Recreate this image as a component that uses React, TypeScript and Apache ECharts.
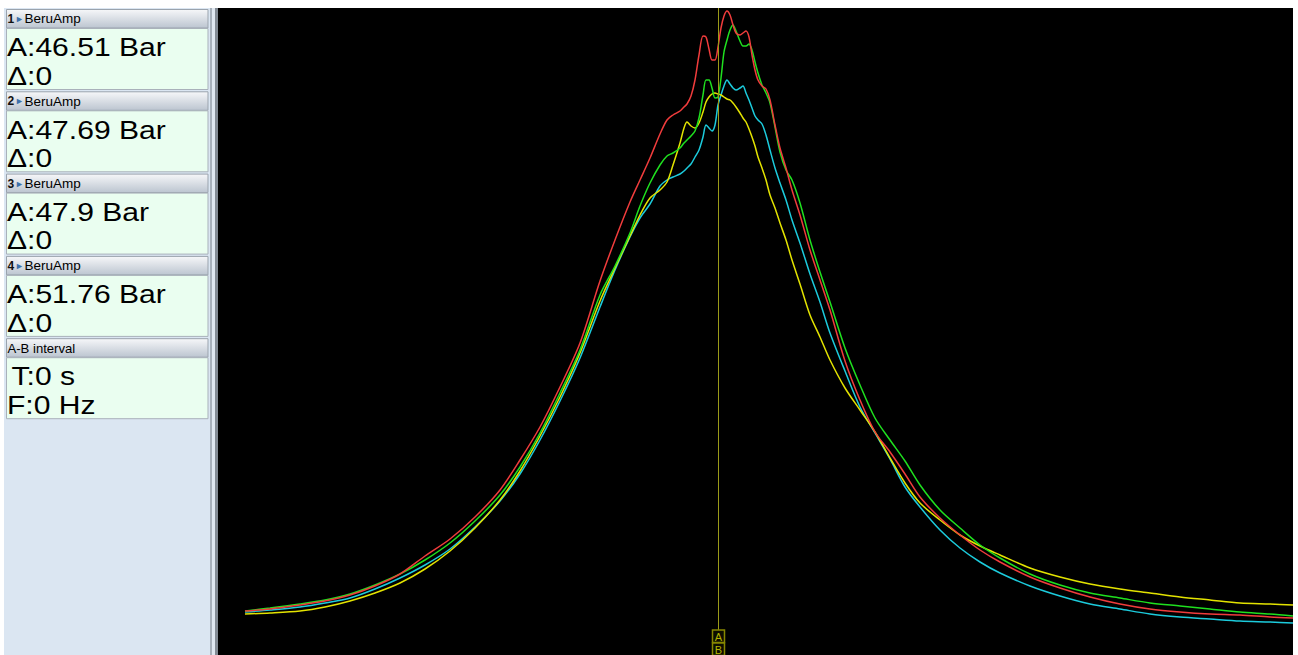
import React, { useEffect, useRef } from "react";
import * as echarts from "echarts";

// frequency bins (shared x for all channels)
const freq = [
  27, 52, 82, 107, 132, 157, 182, 207, 232, 257,
  282, 302, 322, 342, 362, 382, 397, 412, 422, 432,
  442, 449, 455, 462, 466, 469, 473, 477, 481, 485,
  488, 491, 494, 497, 500, 503, 506, 509, 512, 515,
  518, 522, 525, 528, 531, 534, 537, 540, 544, 548,
  552, 557, 562, 568, 574, 582, 592, 602, 612, 627,
  642, 657, 672, 687, 702, 722, 742, 762, 782, 812,
  842, 872, 902, 932, 962, 992, 1022, 1052, 1075,
];

const redAmp = [
  44, 46, 50, 54, 60, 69, 81, 99, 116, 138,
  165, 195, 228, 268, 312, 374, 415, 453, 475, 497,
  521, 535, 540, 544, 548, 551, 559, 575, 600, 619,
  618, 606, 595, 595, 608, 627, 639, 644, 640, 630,
  622, 620, 622, 624, 618, 600, 585, 575, 569, 566,
  555, 530, 507, 487, 465, 440, 405, 375, 345, 294,
  255, 223, 203, 181, 158, 137, 120, 105, 93, 78,
  67, 58, 51, 46, 43, 41, 40, 38, 37,
];

const greenAmp = [
  44, 47, 51, 55, 61, 70, 81, 95, 112, 134,
  160, 188, 222, 262, 305, 360, 389, 422, 449, 472,
  490, 499, 502, 507, 512, 515, 519, 524, 537, 560,
  575, 575, 567, 557, 558, 577, 603, 615, 625, 630,
  624, 614, 609, 609, 611, 605, 593, 582, 570, 562,
  552, 528, 503, 485, 475, 452, 415, 383, 353, 307,
  270, 237, 215, 194, 170, 145, 127, 110, 97, 81,
  70, 62, 57, 52, 49, 46, 43, 41, 39,
];

const cyanAmp = [
  43, 45, 48, 52, 57, 66, 77, 90, 106, 128,
  154, 181, 215, 254, 297, 348, 385, 418, 437, 451,
  469, 475, 478, 481, 484, 487, 491, 498, 505, 518,
  530, 527, 524, 530, 550, 560, 569, 575, 571, 567,
  565, 567, 569, 562, 555, 547, 539, 535, 531, 520,
  505, 487, 472, 455, 435, 412, 381, 353, 322, 284,
  248, 222, 196, 168, 148, 125, 107, 93, 82, 69,
  59, 51, 46, 41, 38, 36, 34, 33, 32,
];

const yellowAmp = [
  41, 42, 44, 48, 54, 62, 72, 86, 104, 127,
  155, 184, 219, 258, 302, 354, 387, 419, 440, 457,
  465, 473, 490, 512, 527, 533, 529, 527, 532, 543,
  553, 558, 561, 562, 561, 560, 558, 556, 555, 552,
  548, 542, 537, 533, 526, 518, 509, 498, 487, 475,
  460, 447, 432, 415, 395, 371, 340, 318, 295, 267,
  245, 223, 197, 172, 152, 135, 120, 109, 100, 87,
  78, 71, 66, 62, 58, 55, 52, 51, 50,
];

const cursorFreq = 500;

const channelNumbers = ["1", "2", "3", "4"];
const channelName = "BeruAmp";
const readouts = ["A:46.51 Bar", "A:47.69 Bar", "A:47.9 Bar", "A:51.76 Bar"];
const deltas = ["Δ:0", "Δ:0", "Δ:0", "Δ:0"];
const intervalTitle = "A-B interval";
const intervalLines = ["T:0 s", "F:0 Hz"];

const FONT = "Arial, 'Liberation Sans', sans-serif";
const BIG_SCALE = 1.135;

function buildPanel(): any[] {
  const els: any[] = [];
  els.push({ type: "rect", shape: { x: 4, y: 8, width: 206, height: 647 }, style: { fill: "#dbe6f2" }, silent: true });
  els.push({ type: "rect", shape: { x: 210, y: 8, width: 2, height: 647 }, style: { fill: "#a7b0ba" }, silent: true });
  els.push({ type: "rect", shape: { x: 212, y: 8, width: 3, height: 647 }, style: { fill: "#dfe7f0" }, silent: true });
  els.push({ type: "rect", shape: { x: 215, y: 8, width: 3, height: 647 }, style: { fill: "#838b94" }, silent: true });

  const headerFill = new echarts.graphic.LinearGradient(0, 0, 0, 1, [
    { offset: 0, color: "#f6f7f9" },
    { offset: 1, color: "#bcc5d0" },
  ]);
  const boxes = [0, 1, 2, 3, 4];
  boxes.forEach((i) => {
    const top = 9 + i * 82.3;
    els.push({
      type: "rect",
      shape: { x: 6.5, y: top + 0.5, width: 201.5, height: 18.5 },
      style: { fill: headerFill, stroke: "#9aa3ad", lineWidth: 1 },
      silent: true,
    });
    els.push({
      type: "rect",
      shape: { x: 6.5, y: top + 19.5, width: 201.5, height: 61 },
      style: { fill: "#eafef0", stroke: "#a9b1ba", lineWidth: 1 },
      silent: true,
    });
    if (i < 4) {
      els.push({ type: "text", x: 7.5, y: top + 10, style: { text: channelNumbers[i], font: `bold 12px ${FONT}`, fill: "#111", textVerticalAlign: "middle" }, silent: true });
      els.push({ type: "text", x: 15, y: top + 10, style: { text: "►", font: `9px ${FONT}`, fill: "#3d70aa", textVerticalAlign: "middle" }, silent: true });
      els.push({ type: "text", x: 24.5, y: top + 10, scaleX: 1.08, style: { text: channelName, font: `12.5px ${FONT}`, fill: "#000", textVerticalAlign: "middle" }, silent: true });
      els.push({ type: "text", x: 7, y: top + 38, scaleX: BIG_SCALE, style: { text: readouts[i], font: `26.5px ${FONT}`, fill: "#000", textVerticalAlign: "middle" }, silent: true });
      els.push({ type: "text", x: 7, y: top + 66.5, scaleX: BIG_SCALE, style: { text: deltas[i], font: `26.5px ${FONT}`, fill: "#000", textVerticalAlign: "middle" }, silent: true });
    } else {
      els.push({ type: "text", x: 7.5, y: top + 10, scaleX: 1.05, style: { text: intervalTitle, font: `12.5px ${FONT}`, fill: "#000", textVerticalAlign: "middle" }, silent: true });
      els.push({ type: "text", x: 11.5, y: top + 37.5, scaleX: BIG_SCALE, style: { text: intervalLines[0], font: `26.5px ${FONT}`, fill: "#000", textVerticalAlign: "middle" }, silent: true });
      els.push({ type: "text", x: 7, y: top + 66, scaleX: BIG_SCALE, style: { text: intervalLines[1], font: `26.5px ${FONT}`, fill: "#000", textVerticalAlign: "middle" }, silent: true });
    }
  });
  return els;
}

function buildCursorBoxes(cx: number): any[] {
  const els: any[] = [];
  ["A", "B"].forEach((label, i) => {
    const y = 630 + i * 13;
    els.push({
      type: "rect",
      z: 100,
      shape: { x: cx - 6, y, width: 12, height: 12.5 },
      style: { fill: "#0d0d00", stroke: "#878700", lineWidth: 1.5 },
      silent: true,
    });
    els.push({
      type: "text",
      z: 101,
      x: cx,
      y: y + 6.5,
      style: { text: label, font: `11px ${FONT}`, fill: "#b3b300", textAlign: "center", textVerticalAlign: "middle" },
      silent: true,
    });
  });
  return els;
}

const mk = (arr: number[]) => freq.map((f, i) => [f, arr[i]]);

export default function App() {
  const ref = useRef<HTMLDivElement>(null);
  useEffect(() => {
    document.body.style.margin = "0";
    document.body.style.overflow = "hidden";
    const chart = echarts.init(ref.current!, undefined, { renderer: "svg" });
    const lineSeries = (name: string, data: number[], color: string, extra: any = {}) => ({
      name,
      type: "line",
      data: mk(data),
      showSymbol: false,
      smooth: 0.3,
      lineStyle: { color, width: 1.5 },
      itemStyle: { color },
      silent: true,
      ...extra,
    });
    chart.setOption({
      animation: false,
      backgroundColor: "#ffffff",
      grid: { left: 218, top: 8, right: 5, bottom: 0, show: true, backgroundColor: "#000000", borderWidth: 0 },
      xAxis: { type: "value", min: 0, max: 1075, show: false },
      yAxis: { type: "value", min: 0, max: 647, show: false },
      series: [
        lineSeries("3 BeruAmp", cyanAmp, "#1ccbdc"),
        lineSeries("4 BeruAmp", yellowAmp, "#e3e300"),
        lineSeries("2 BeruAmp", greenAmp, "#1fe01f"),
        lineSeries("1 BeruAmp", redAmp, "#f03c3c", {
          markLine: {
            silent: true,
            symbol: "none",
            label: { show: false },
            lineStyle: { color: "#9a9a18", width: 1, type: "solid" },
            data: [{ xAxis: cursorFreq }],
          },
        }),
      ],
    });
    const [cx] = chart.convertToPixel({ gridIndex: 0 }, [cursorFreq, 0]) as number[];
    chart.setOption({ graphic: [...buildPanel(), ...buildCursorBoxes(Math.round(cx) + 0.5)] });
    return () => chart.dispose();
  }, []);
  return <div ref={ref} style={{ width: 1298, height: 655 }} />;
}
